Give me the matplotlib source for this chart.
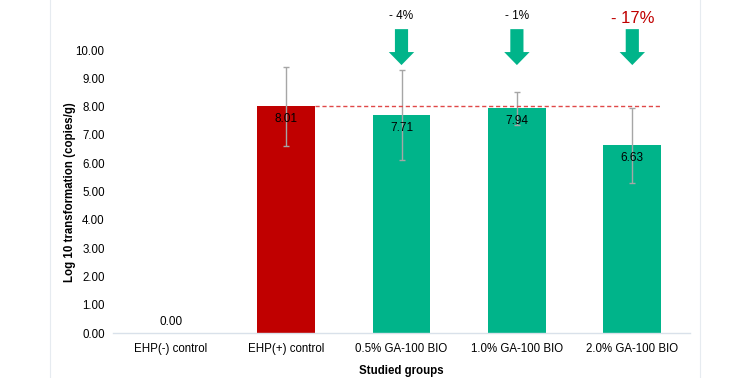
import matplotlib
matplotlib.use("Agg")
import matplotlib.pyplot as plt
from matplotlib.patches import Polygon
from matplotlib.lines import Line2D

plt.rcParams['font.family'] = ['Liberation Sans', 'DejaVu Sans']

categories = ["EHP(-) control", "EHP(+) control", "0.5% GA-100 BIO", "1.0% GA-100 BIO", "2.0% GA-100 BIO"]
values = [0.00, 8.01, 7.71, 7.94, 6.63]
errors = [0.0, 1.40, 1.60, 0.58, 1.32]
bar_colors = ["#00B48A", "#C00000", "#00B48A", "#00B48A", "#00B48A"]
changes = [None, None, "- 4%", "- 1%", "- 17%"]
change_colors = [None, None, "#000000", "#000000", "#C00000"]
change_sizes = [None, None, 8.5, 8.5, 12]
yticks = [0, 1, 2, 3, 4, 5, 6, 7, 8, 9, 10]

green = "#00B48A"

L, R = 113, 690
fig = plt.figure(figsize=(7.5, 3.78), dpi=100)
ax = fig.add_axes([L/750, 1 - 333/378, (R-L)/750, 333/378])

x = list(range(len(categories)))
ax.bar(x, values, width=0.5, color=bar_colors, zorder=2)
ax.errorbar(x[1:], values[1:], yerr=errors[1:], fmt='none', ecolor="#A6A6A6",
            elinewidth=1.0, capsize=2.5, capthick=1.0, zorder=3)

ax.set_xlim(-0.5, len(categories) - 0.5)
ax.set_ylim(0, 11.77)
ax.set_yticks(yticks)
ax.set_yticklabels([f"{t:.2f}" for t in yticks], fontsize=8.3)
ax.set_xticks(x)
ax.set_xticklabels(categories, fontsize=8.3)
ax.tick_params(axis='y', length=0, pad=6)
ax.tick_params(axis='x', length=0, pad=7)
for s in ['top', 'right', 'left']:
    ax.spines[s].set_visible(False)
ax.spines['bottom'].set_color('#D9E1EA')
ax.spines['bottom'].set_linewidth(1.0)

# reference dashed line at EHP(+) level
ax.plot([1 + 0.25, 4 + 0.25], [values[1], values[1]], linestyle=(0, (3, 2)),
        color="#E04848", linewidth=1.0, zorder=4)

# value labels
for i, v in enumerate(values):
    if v == 0:
        ax.text(i, v + 0.4, f"{v:.2f}", ha='center', va='center', fontsize=8.5, zorder=5)
    else:
        ax.text(i, v - 0.45, f"{v:.2f}", ha='center', va='center', fontsize=8.5, zorder=5)

# arrows and percent changes
shaft_hw, head_hw = 0.057, 0.11
y_top, y_neck, y_tip = 10.74, 9.93, 9.47
for i, c in enumerate(changes):
    if c is None:
        continue
    pts = [(i - shaft_hw, y_top), (i + shaft_hw, y_top), (i + shaft_hw, y_neck),
           (i + head_hw, y_neck), (i, y_tip), (i - head_hw, y_neck), (i - shaft_hw, y_neck)]
    ax.add_patch(Polygon(pts, closed=True, facecolor=green, edgecolor='none',
                         clip_on=False, zorder=5))
    ty = 11.2 if change_sizes[i] < 10 else 11.13
    ax.text(i, ty, c, ha='center', va='center', fontsize=change_sizes[i],
            color=change_colors[i], clip_on=False)

ax.set_ylabel("Log 10 transformation (copies/g)", fontsize=8.3, fontweight='bold')
ax.yaxis.set_label_coords((76 - L) / (R - L), (333 - 192) / 333)
ax.set_xlabel("Studied groups", fontsize=8.3, fontweight='bold')
ax.xaxis.set_label_coords(0.5, -(365 - 333) / 333)

# page frame lines
for px in (50, 700):
    fig.add_artist(Line2D([px/750, px/750], [0, 1], color="#E6EBF0", linewidth=0.8))

fig.savefig("out.png", dpi=100)
